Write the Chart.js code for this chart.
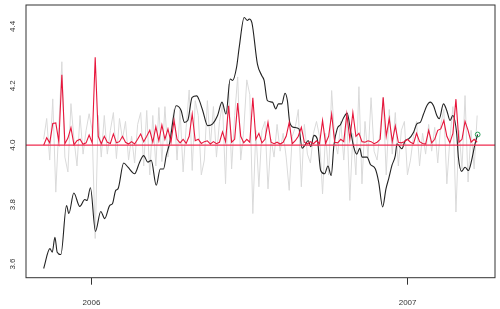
<!DOCTYPE html>
<html>
<head>
<meta charset="utf-8">
<script src="https://cdn.jsdelivr.net/npm/chart.js@4"></script>
<style>
  html, body { margin: 0; padding: 0; background: #fff; }
  #wrap { width: 500px; height: 309px; }
</style>
</head>
<body>
<div id="wrap"><canvas id="series-chart" width="500" height="309"></canvas></div>
<script>
// x values are days counted from 2006-01-01
const xRange = [-75.6, 465.9];
const yRange = [3.554, 4.472];
const xTickDays = [0, 365];
const xTickLabels = ["2006", "2007"];
const yTicks = [3.6, 3.8, 4.0, 4.2, 4.4];
const baseLevel = 4.0;

// smoothed level (black)
const levelDays = [
    -55.2, -48, -45.3, -42.2, -39.6, -35.3, -28.8, -26.1, -20.4, -13.5,
    -7.7, -5.1, -1.2, 4.6, 10.7, 15.3, 21, 24.2, 28, 30.6,
    37.2, 42.1, 49.8, 55.6, 60.2, 65.1, 69, 74.8, 79.4, 83.2,
    86.3, 90.1, 97.8, 103.5, 107.3, 111.1, 116.2, 121.5, 124.6, 128.4,
    134.1, 139.9, 145.6, 150.7, 155.3, 160.2, 162.9, 167.5, 170.6, 176.3,
    180.1, 182.1, 185.2, 191.6, 196.7, 199.3, 203.1, 208.9, 212.8, 215.8,
    219.7, 223.5, 226.2, 228.9, 233.9, 239.6, 243.1, 246.5, 250.3, 253.1,
    256.9, 260.7, 264.6, 269.2, 273, 276.8, 279.9, 283.7, 287.6, 291.4,
    295.2, 299.1, 302.9, 306.3, 309.8, 312.4, 318.2, 322.1, 327.8, 331.6,
    336.2, 340, 343.1, 346.9, 350.8, 352.7, 358.4, 362.3, 366.1, 371.9,
    375.7, 379.6, 383.4, 387.2, 391.1, 394.9, 398.7, 401.5, 406.4, 410.2,
    414.1, 417.1, 421.7, 423.6, 427.4, 431.3, 435.2, 438.9, 442.9, 445.9
];
const levelValues = [
    3.585, 3.652, 3.64, 3.69, 3.64, 3.632, 3.797, 3.77, 3.839, 3.794,
    3.817, 3.814, 3.857, 3.71, 3.777, 3.753, 3.797, 3.803, 3.848, 3.853,
    3.94, 3.926, 3.904, 3.943, 3.965, 3.943, 3.949, 3.865, 3.92, 3.92,
    3.965, 4.005, 4.133, 4.117, 4.077, 4.083, 4.161, 4.166, 4.15, 4.117,
    4.066, 4.072, 4.1, 4.145, 4.105, 4.223, 4.218, 4.262, 4.33, 4.43,
    4.42, 4.425, 4.413, 4.273, 4.234, 4.218, 4.15, 4.145, 4.122, 4.139,
    4.139, 4.175, 4.15, 4.077, 4.06, 4.055, 3.99, 4.0, 4.016, 3.995,
    4.033, 4.021, 3.915, 3.904, 3.93, 3.898, 4.0, 4.055, 4.07, 4.094,
    4.108, 4.049, 3.993, 3.97, 3.99, 3.96, 3.96, 3.935, 3.92, 3.876,
    3.792, 3.853, 3.887, 3.932, 3.965, 4.005, 3.988, 4.016, 4.021, 4.044,
    4.072, 4.077, 4.105, 4.133, 4.145, 4.133, 4.1, 4.089, 4.139, 4.117,
    4.083, 4.1, 4.038, 3.96, 3.912, 3.926, 3.915, 3.949, 4.005, 4.036
];

// raw series (grey) and its squared deviation (red), one value every 3.5 days
const sampleStartDay = -55.2;
const sampleStepDays = 3.5;
const rawValues = [
    4.02, 4.09, 3.95, 4.156, 3.842, 4.06, 4.281, 3.96, 3.91, 4.14,
    4.02, 3.93, 4.10, 3.97, 4.05, 4.106, 4.05, 3.686, 4.10, 3.96,
    4.10, 3.97, 4.05, 4.11, 3.955, 4.09, 4.02, 4.08, 3.95, 4.03,
    3.94, 4.07, 4.11, 3.93, 4.117, 3.90, 4.10, 3.93, 4.127, 3.945,
    4.13, 3.96, 4.05, 4.12, 3.95, 4.12, 3.91, 4.06, 4.186, 3.915,
    4.15, 4.10, 3.90, 3.95, 4.15, 4.0, 4.13, 3.96, 4.08, 4.14,
    3.87, 4.206, 3.92, 4.10, 4.23, 3.95, 4.05, 4.22, 4.17, 3.77,
    4.05, 3.86, 4.05, 4.08, 3.853, 4.02, 3.96, 4.07, 3.98, 4.04,
    3.96, 3.848, 4.03, 4.06, 4.12, 3.86, 4.07, 3.97, 3.94, 4.04,
    4.08, 4.03, 3.836, 4.04, 3.9, 4.184, 4.02, 3.97, 4.08, 3.95,
    4.10, 3.814, 4.04, 3.90, 4.197, 3.87, 4.08, 3.96, 4.16, 3.98,
    3.95, 4.05, 4.16, 3.90, 4.12, 3.97, 4.11, 3.93, 4.05, 4.08,
    3.90, 3.95, 4.03, 4.08, 3.93, 4.04, 3.97, 4.07, 3.98, 4.06,
    3.94, 4.07, 4.12, 3.87, 4.02, 4.13, 3.775, 4.05, 3.92, 4.167,
    3.876, 4.05, 3.92, 4.10
];
const spikeValues = [
    4.00, 4.025, 4.008, 4.073, 4.075, 4.011, 4.237, 4.005, 4.024, 4.059,
    4.001, 4.015, 4.02, 4.003, 4.008, 4.034, 4.008, 4.296, 4.03, 4.005,
    4.03, 4.01, 4.006, 4.038, 4.008, 4.012, 4.03, 4.01, 4.004, 4.012,
    4.004, 4.02, 4.038, 4.012, 4.03, 4.05, 4.01, 4.062, 4.015, 4.068,
    4.02, 4.055, 4.01, 4.083, 4.02, 4.008, 4.02, 4.006, 4.03, 4.105,
    4.015, 4.02, 4.006, 4.012, 4.015, 4.004, 4.012, 4.005, 4.01, 4.045,
    4.012, 4.133, 4.01, 4.02, 4.142, 4.03, 4.008, 4.02, 4.01, 4.16,
    4.02, 4.04, 4.008, 4.02, 4.077, 4.01, 4.005, 4.01, 4.004, 4.01,
    4.03, 4.077, 4.005, 4.015, 4.03, 4.06, 4.01, 4.004, 4.012, 4.005,
    4.015, 4.005, 4.083, 4.006, 4.03, 4.105, 4.01, 4.008, 4.02, 4.012,
    4.105, 4.02, 4.11, 4.03, 4.04, 4.012, 4.01, 4.015, 4.012, 4.005,
    4.01, 4.02, 4.161, 4.03, 4.09, 4.012, 4.065, 4.01, 4.008, 4.012,
    4.02, 4.01, 4.005, 4.04, 4.012, 4.006, 4.004, 4.05, 4.008, 4.02,
    4.05, 4.055, 4.083, 4.03, 4.008, 4.04, 4.155, 4.01, 4.02, 4.08,
    4.05, 4.01, 4.02, 4.01
];

// final point (green circle)
const lastDays = [445.9];
const lastValues = [4.036];

(function () {
    const sampleDays = rawValues.map((_, i) => sampleStartDay + i * sampleStepDays);

    function toPoints(xs, ys) {
        return ys.map((y, i) => ({ x: xs[i], y: y }));
    }

    Chart.defaults.font.family = '"Liberation Sans", Arial, Helvetica, sans-serif';
    Chart.defaults.font.size = 8;
    Chart.defaults.color = "#333";

    // R-style box around the plot region
    const plotBox = {
        id: "plotBox",
        afterDraw(chart) {
            const a = chart.chartArea;
            const ctx = chart.ctx;
            ctx.save();
            ctx.strokeStyle = "#333";
            ctx.lineWidth = 1;
            ctx.strokeRect(a.left, a.top, a.right - a.left, a.bottom - a.top);
            ctx.restore();
        },
    };

    // horizontal reference line
    const baseLine = {
        id: "baseLine",
        afterDatasetsDraw(chart) {
            const a = chart.chartArea;
            const y = chart.scales.y.getPixelForValue(baseLevel);
            const ctx = chart.ctx;
            ctx.save();
            ctx.strokeStyle = "#ef2b4f";
            ctx.lineWidth = 1.2;
            ctx.beginPath();
            ctx.moveTo(a.left, y);
            ctx.lineTo(a.right, y);
            ctx.stroke();
            ctx.restore();
        },
    };

    new Chart(document.getElementById("series-chart").getContext("2d"), {
        type: "line",
        data: {
            datasets: [
                {
                    label: "last",
                    data: toPoints(lastDays, lastValues),
                    showLine: false,
                    pointRadius: 2.4,
                    pointBorderWidth: 1,
                    pointBorderColor: "#2aa05a",
                    pointBackgroundColor: "rgba(0,0,0,0)",
                    order: 0,
                },
                {
                    label: "spikes",
                    data: toPoints(sampleDays, spikeValues),
                    borderColor: "#e8163c",
                    borderWidth: 1.1,
                    pointRadius: 0,
                    tension: 0,
                    order: 1,
                },
                {
                    label: "level",
                    data: toPoints(levelDays, levelValues),
                    borderColor: "#222",
                    borderWidth: 1.1,
                    pointRadius: 0,
                    cubicInterpolationMode: "monotone",
                    order: 2,
                },
                {
                    label: "raw",
                    data: toPoints(sampleDays, rawValues),
                    borderColor: "#dadada",
                    borderWidth: 1,
                    pointRadius: 0,
                    tension: 0,
                    order: 3,
                },
            ],
        },
        options: {
            responsive: false,
            animation: false,
            devicePixelRatio: 1,
            layout: { padding: { left: 0, top: 4.5, right: 3.3, bottom: 0 } },
            plugins: {
                legend: { display: false },
                tooltip: { enabled: false },
            },
            scales: {
                x: {
                    type: "linear",
                    min: xRange[0],
                    max: xRange[1],
                    afterBuildTicks(scale) {
                        scale.ticks = xTickDays.map((v) => ({ value: v }));
                    },
                    afterFit(scale) {
                        scale.height = 31.3;
                        scale.paddingLeft = 0;
                        scale.paddingRight = 0;
                    },
                    border: { display: false },
                    grid: {
                        drawOnChartArea: false,
                        drawTicks: true,
                        tickLength: 7,
                        color: "#333",
                    },
                    ticks: {
                        padding: 13,
                        maxRotation: 0,
                        autoSkip: false,
                        callback: function (value) {
                            const idx = xTickDays.indexOf(value);
                            return idx >= 0 ? xTickLabels[idx] : "";
                        },
                    },
                },
                y: {
                    min: yRange[0],
                    max: yRange[1],
                    afterBuildTicks(scale) {
                        scale.ticks = yTicks.map((v) => ({ value: v }));
                    },
                    afterFit(scale) {
                        scale.width = 26;
                        scale.paddingTop = 0;
                        scale.paddingBottom = 0;
                    },
                    border: { display: false },
                    grid: { display: false, drawTicks: false },
                    ticks: {
                        minRotation: 90,
                        maxRotation: 90,
                        crossAlign: "center",
                        padding: 8,
                        autoSkip: false,
                        callback: function (value) {
                            return value.toFixed(1);
                        },
                    },
                },
            },
        },
        plugins: [plotBox, baseLine],
    });
})();
</script>
</body>
</html>
